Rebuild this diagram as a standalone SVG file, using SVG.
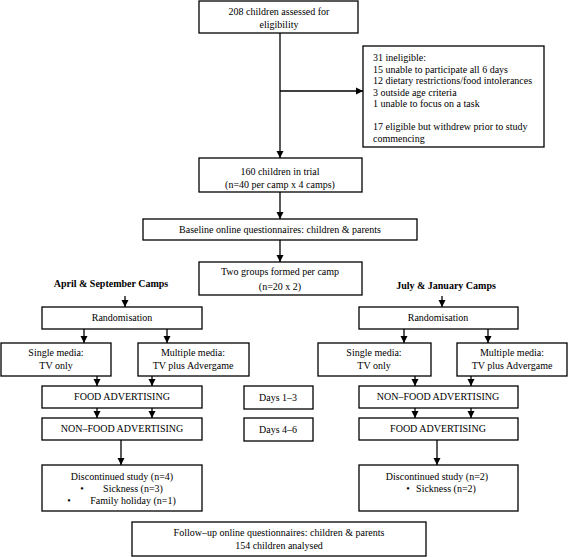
<svg xmlns="http://www.w3.org/2000/svg" width="568" height="557" viewBox="0 0 568 557" font-family="Liberation Serif, Times New Roman, DejaVu Serif, serif">
<style>
.b{fill:#fff;stroke:#000;stroke-width:1.3}
.t{font-size:10px;fill:#000;text-anchor:middle}
.l{text-anchor:start}
.h{font-weight:bold}
.c{fill:none;stroke:#000;stroke-width:1.3;marker-end:url(#a)}
</style>
<defs>
<marker id="a" markerUnits="userSpaceOnUse" markerWidth="8" markerHeight="8" refX="7" refY="4" orient="auto">
<path d="M0,0.5 L7,4 L0,7.5 Z" fill="#000"/>
</marker>
</defs>
<rect width="568" height="557" fill="#fff"/>
<g id="connectors">
<path class="c" d="M280,33 V158"/>
<path class="c" d="M280,91 H363"/>
<path class="c" d="M280,192 V219"/>
<path class="c" d="M280,240 V262"/>
<path class="c" d="M125,296 V307"/>
<path class="c" d="M442,296 V307"/>
<path class="c" d="M84,329 V343"/>
<path class="c" d="M167,329 V343"/>
<path class="c" d="M404,329 V343"/>
<path class="c" d="M488,329 V343"/>
<path class="c" d="M97,376 V386"/>
<path class="c" d="M152,376 V386"/>
<path class="c" d="M415,376 V386"/>
<path class="c" d="M471,376 V386"/>
<path class="c" d="M97,408 V418"/>
<path class="c" d="M152,408 V418"/>
<path class="c" d="M415,408 V418"/>
<path class="c" d="M471,408 V418"/>
<path class="c" d="M121,440 V465"/>
<path class="c" d="M437,440 V465"/>
</g>
<g id="assessed">
<rect class="b" x="199" y="1" width="159" height="32"/>
<text class="t" x="279" y="15">208 children assessed for</text>
<text class="t" x="279" y="28">eligibility</text>
</g>
<g id="ineligible">
<rect class="b" x="363" y="46" width="181" height="101"/>
<text class="t l" x="373" y="61">31 ineligible:</text>
<text class="t l" x="373" y="72.5">15 unable to participate all 6 days</text>
<text class="t l" x="373" y="84">12 dietary restrictions/food intolerances</text>
<text class="t l" x="373" y="95.5">3 outside age criteria</text>
<text class="t l" x="373" y="107">1 unable to focus on a task</text>
<text class="t l" x="373" y="130">17 eligible but withdrew prior to study</text>
<text class="t l" x="373" y="141.5">commencing</text>
</g>
<g id="trial">
<rect class="b" x="199" y="158" width="163" height="34"/>
<text class="t" x="280" y="175">160 children in trial</text>
<text class="t" x="280" y="188">(n=40 per camp x 4 camps)</text>
</g>
<g id="baseline">
<rect class="b" x="143" y="219" width="274" height="21"/>
<text class="t" x="280" y="233">Baseline online questionnaires: children &amp; parents</text>
</g>
<g id="groups">
<rect class="b" x="199" y="262" width="163" height="33"/>
<text class="t" x="280" y="275">Two groups formed per camp</text>
<text class="t" x="280" y="290">(n=20 x 2)</text>
</g>
<g id="heading-left">
<text class="t h" x="111" y="287">April &amp; September Camps</text>
</g>
<g id="heading-right">
<text class="t h" x="446" y="289">July &amp; January Camps</text>
</g>
<g id="rand-left">
<rect class="b" x="42" y="307" width="160" height="22"/>
<text class="t" x="122" y="321">Randomisation</text>
</g>
<g id="rand-right">
<rect class="b" x="359" y="307" width="159" height="22"/>
<text class="t" x="438" y="321">Randomisation</text>
</g>
<g id="single-left">
<rect class="b" x="1" y="343" width="110" height="33"/>
<text class="t" x="56" y="356">Single media:</text>
<text class="t" x="56" y="369">TV only</text>
</g>
<g id="multiple-left">
<rect class="b" x="138" y="343" width="111" height="33"/>
<text class="t" x="193" y="356">Multiple media:</text>
<text class="t" x="193" y="369">TV plus Advergame</text>
</g>
<g id="single-right">
<rect class="b" x="318" y="343" width="113" height="33"/>
<text class="t" x="374" y="356">Single media:</text>
<text class="t" x="374" y="369">TV only</text>
</g>
<g id="multiple-right">
<rect class="b" x="457" y="343" width="110" height="33"/>
<text class="t" x="512" y="356">Multiple media:</text>
<text class="t" x="512" y="369">TV plus Advergame</text>
</g>
<g id="food-left">
<rect class="b" x="42" y="386" width="160" height="22"/>
<text class="t" x="122" y="400">FOOD ADVERTISING</text>
</g>
<g id="days13">
<rect class="b" x="244" y="386" width="69" height="23"/>
<text class="t" x="278" y="401">Days 1–3</text>
</g>
<g id="nonfood-right">
<rect class="b" x="359" y="386" width="159" height="22"/>
<text class="t" x="438" y="400">NON–FOOD ADVERTISING</text>
</g>
<g id="nonfood-left">
<rect class="b" x="42" y="418" width="160" height="22"/>
<text class="t" x="122" y="432">NON–FOOD ADVERTISING</text>
</g>
<g id="days46">
<rect class="b" x="244" y="418" width="69" height="23"/>
<text class="t" x="278" y="433">Days 4–6</text>
</g>
<g id="food-right">
<rect class="b" x="359" y="418" width="159" height="22"/>
<text class="t" x="438" y="432">FOOD ADVERTISING</text>
</g>
<g id="disc-left">
<rect class="b" x="42" y="465" width="160" height="46"/>
<text class="t" x="122" y="480">Discontinued study (n=4)</text>
<text class="t" x="82" y="492">•</text>
<text class="t" x="133" y="492">Sickness (n=3)</text>
<text class="t" x="69" y="504">•</text>
<text class="t" x="133" y="504">Family holiday (n=1)</text>
</g>
<g id="disc-right">
<rect class="b" x="359" y="465" width="159" height="46"/>
<text class="t" x="437" y="480">Discontinued study (n=2)</text>
<text class="t" x="408" y="492">•</text>
<text class="t" x="446" y="492">Sickness (n=2)</text>
</g>
<g id="followup">
<rect class="b" x="132" y="522" width="294" height="34"/>
<text class="t" x="279" y="536">Follow–up online questionnaires: children &amp; parents</text>
<text class="t" x="279" y="549">154 children analysed</text>
</g>
</svg>
